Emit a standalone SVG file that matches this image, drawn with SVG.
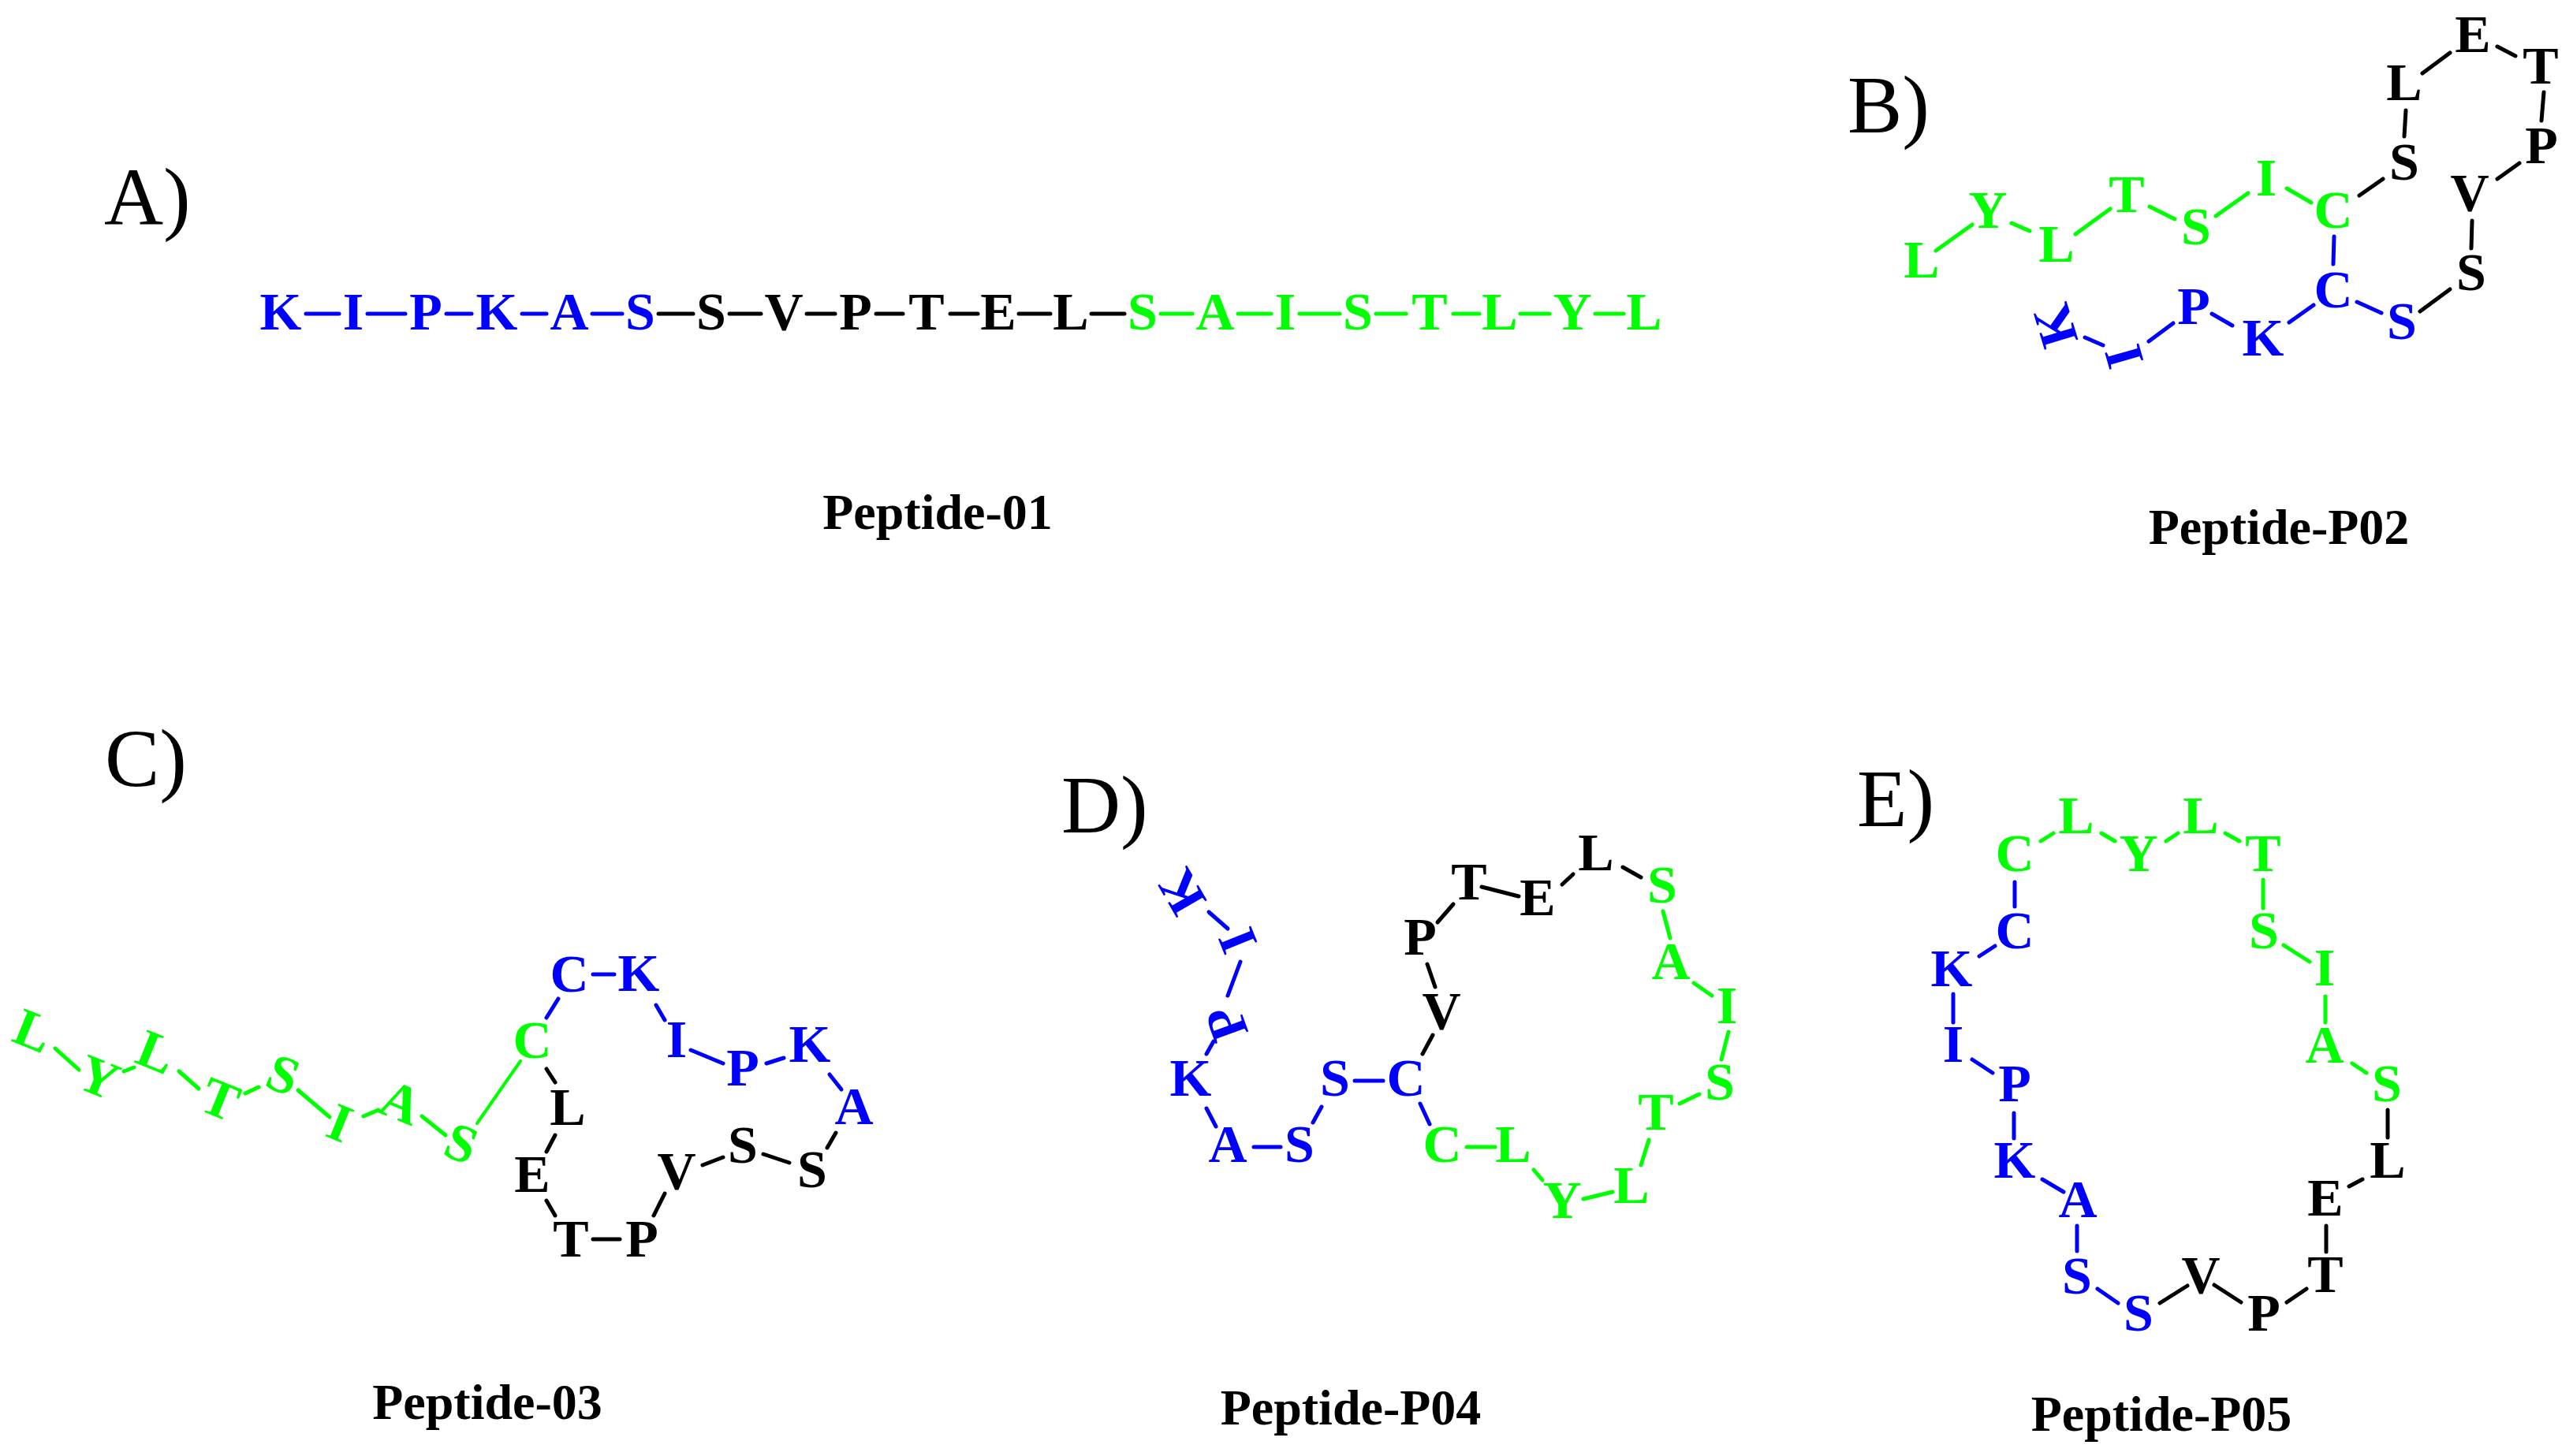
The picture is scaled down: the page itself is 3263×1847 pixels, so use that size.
<svg xmlns="http://www.w3.org/2000/svg" width="3263" height="1847" viewBox="0 0 3263 1847">
<style>
text{font-family:"Liberation Serif","Times New Roman",serif;}
.r text,.r{font-size:68px;font-weight:bold;text-anchor:middle;}
.lab{font-size:104px;font-weight:normal;}
.cap{font-size:64px;font-weight:bold;text-anchor:middle;}
.b{fill:#0000ff;} .g{fill:#00ff00;} .k{fill:#000000;}
#connectors line{stroke-width:5;stroke-linecap:round;}
.lb{stroke:#0000ff;} .lg{stroke:#00ff00;} .lk{stroke:#000000;}
</style>
<rect width="3263" height="1847" fill="#ffffff"/>

<g id="labels">
<text class="lab" x="132" y="285">A)</text>
<text class="lab" x="2343" y="168">B)</text>
<text class="lab" x="133" y="997">C)</text>
<text class="lab" x="1346" y="1056">D)</text>
<text class="lab" x="2355" y="1048">E)</text>
</g>
<g id="captions">
<text class="cap" x="1189" y="671">Peptide-01</text>
<text class="cap" x="2890" y="690">Peptide-P02</text>
<text class="cap" x="618" y="1800">Peptide-03</text>
<text class="cap" x="1713" y="1807">Peptide-P04</text>
<text class="cap" x="2741" y="1815">Peptide-P05</text>
</g>

<g id="connectors">
<!-- A -->
<line class="lb" x1="388" y1="398" x2="430" y2="398"/>
<line class="lb" x1="466" y1="398" x2="514" y2="398"/>
<line class="lb" x1="566" y1="398" x2="598" y2="398"/>
<line class="lb" x1="662" y1="398" x2="693" y2="398"/>
<line class="lb" x1="751" y1="398" x2="789" y2="398"/>
<line class="lk" x1="835" y1="398" x2="879" y2="398"/>
<line class="lk" x1="925" y1="398" x2="965" y2="398"/>
<line class="lk" x1="1023" y1="398" x2="1059" y2="398"/>
<line class="lk" x1="1111" y1="398" x2="1145" y2="398"/>
<line class="lk" x1="1205" y1="398" x2="1240" y2="398"/>
<line class="lk" x1="1292" y1="398" x2="1332" y2="398"/>
<line class="lk" x1="1384" y1="398" x2="1426" y2="398"/>
<line class="lg" x1="1472" y1="398" x2="1512" y2="398"/>
<line class="lg" x1="1570" y1="398" x2="1612" y2="398"/>
<line class="lg" x1="1648" y1="398" x2="1699" y2="398"/>
<line class="lg" x1="1745" y1="398" x2="1783" y2="398"/>
<line class="lg" x1="1843" y1="398" x2="1876" y2="398"/>
<line class="lg" x1="1928" y1="398" x2="1965" y2="398"/>
<line class="lg" x1="2023" y1="398" x2="2059" y2="398"/>
<!-- B -->
<line class="lg" x1="2455" y1="318" x2="2501" y2="285"/>
<line class="lg" x1="2551" y1="283" x2="2574" y2="293"/>
<line class="lg" x1="2632" y1="297" x2="2676" y2="265"/>
<line class="lg" x1="2726" y1="262" x2="2758" y2="278"/>
<line class="lg" x1="2810" y1="274" x2="2851" y2="245"/>
<line class="lg" x1="2900" y1="239" x2="2931" y2="257"/>
<line class="lk" x1="2992" y1="248" x2="3022" y2="227"/>
<line class="lk" x1="3049" y1="173" x2="3051" y2="140"/>
<line class="lk" x1="3072" y1="93" x2="3107" y2="67"/>
<line class="lk" x1="3167" y1="59" x2="3190" y2="71"/>
<line class="lk" x1="3226" y1="117" x2="3223" y2="153"/>
<line class="lk" x1="3195" y1="207" x2="3167" y2="227"/>
<line class="lk" x1="3135" y1="280" x2="3134" y2="315"/>
<line class="lk" x1="3069" y1="395" x2="3107" y2="367"/>
<line class="lb" x1="2989" y1="383" x2="3020" y2="397"/>
<line class="lb" x1="2960" y1="300" x2="2959" y2="335"/>
<line class="lb" x1="2903" y1="409" x2="2934" y2="387"/>
<line class="lb" x1="2805" y1="398" x2="2831" y2="413"/>
<line class="lb" x1="2725" y1="433" x2="2756" y2="410"/>
<line class="lb" x1="2644" y1="428" x2="2667" y2="438"/>
<!-- C -->
<line class="lg" x1="70" y1="1330" x2="100" y2="1357"/>
<line class="lg" x1="157" y1="1359" x2="170" y2="1354"/>
<line class="lg" x1="227" y1="1359" x2="252" y2="1381"/>
<line class="lg" x1="311" y1="1387" x2="328" y2="1379"/>
<line class="lg" x1="378" y1="1383" x2="418" y2="1417"/>
<line class="lg" x1="461" y1="1416" x2="480" y2="1408"/>
<line class="lg" x1="535" y1="1416" x2="565" y2="1440"/>
<line class="lg" x1="605" y1="1425" x2="660" y2="1346" style="stroke-width:4"/>
<line class="lb" x1="693" y1="1291" x2="708" y2="1267"/>
<line class="lb" x1="752" y1="1236" x2="779" y2="1236"/>
<line class="lb" x1="832" y1="1275" x2="843" y2="1294"/>
<line class="lb" x1="876" y1="1332" x2="917" y2="1349"/>
<line class="lb" x1="972" y1="1349" x2="994" y2="1342"/>
<line class="lb" x1="1052" y1="1363" x2="1067" y2="1382"/>
<line class="lk" x1="1060" y1="1437" x2="1049" y2="1456"/>
<line class="lk" x1="968" y1="1464" x2="1001" y2="1475"/>
<line class="lk" x1="891" y1="1478" x2="917" y2="1468"/>
<line class="lk" x1="843" y1="1514" x2="829" y2="1542"/>
<line class="lk" x1="752" y1="1572" x2="786" y2="1572"/>
<line class="lk" x1="704" y1="1542" x2="693" y2="1523"/>
<line class="lk" x1="693" y1="1461" x2="704" y2="1440"/>
<line class="lk" x1="693" y1="1356" x2="704" y2="1373"/>
<!-- D -->
<line class="lb" x1="1533" y1="1157" x2="1557" y2="1178"/>
<line class="lb" x1="1573" y1="1220" x2="1557" y2="1263"/>
<line class="lb" x1="1539" y1="1321" x2="1530" y2="1337"/>
<line class="lb" x1="1530" y1="1406" x2="1542" y2="1429"/>
<line class="lb" x1="1590" y1="1455" x2="1624" y2="1455"/>
<line class="lb" x1="1665" y1="1424" x2="1676" y2="1404"/>
<line class="lb" x1="1718" y1="1371" x2="1754" y2="1371"/>
<line class="lk" x1="1804" y1="1337" x2="1817" y2="1313"/>
<line class="lk" x1="1820" y1="1252" x2="1810" y2="1223"/>
<line class="lk" x1="1823" y1="1170" x2="1843" y2="1147"/>
<line class="lk" x1="1879" y1="1125" x2="1926" y2="1137"/>
<line class="lk" x1="1981" y1="1122" x2="1995" y2="1109"/>
<line class="lk" x1="2058" y1="1100" x2="2081" y2="1113"/>
<line class="lg" x1="2109" y1="1156" x2="2118" y2="1190"/>
<line class="lg" x1="2148" y1="1247" x2="2171" y2="1263"/>
<line class="lg" x1="2192" y1="1309" x2="2183" y2="1344"/>
<line class="lg" x1="2155" y1="1388" x2="2130" y2="1400"/>
<line class="lg" x1="2091" y1="1446" x2="2081" y2="1478"/>
<line class="lg" x1="2045" y1="1512" x2="2008" y2="1521"/>
<line class="lg" x1="1956" y1="1497" x2="1945" y2="1484"/>
<line class="lg" x1="1860" y1="1455" x2="1896" y2="1455"/>
<line class="lb" x1="1801" y1="1400" x2="1813" y2="1426"/>
<!-- E -->
<line class="lg" x1="2588" y1="1067" x2="2604" y2="1057"/>
<line class="lg" x1="2665" y1="1057" x2="2682" y2="1067"/>
<line class="lg" x1="2747" y1="1067" x2="2762" y2="1057"/>
<line class="lg" x1="2822" y1="1057" x2="2840" y2="1067"/>
<line class="lg" x1="2870" y1="1116" x2="2870" y2="1152"/>
<line class="lg" x1="2896" y1="1199" x2="2929" y2="1220"/>
<line class="lg" x1="2949" y1="1264" x2="2949" y2="1297"/>
<line class="lg" x1="2983" y1="1349" x2="3001" y2="1361"/>
<line class="lk" x1="3028" y1="1408" x2="3028" y2="1443"/>
<line class="lk" x1="2996" y1="1496" x2="2979" y2="1505"/>
<line class="lk" x1="2950" y1="1555" x2="2950" y2="1588"/>
<line class="lk" x1="2925" y1="1635" x2="2900" y2="1652"/>
<line class="lk" x1="2842" y1="1652" x2="2808" y2="1630"/>
<line class="lk" x1="2774" y1="1631" x2="2739" y2="1653"/>
<line class="lb" x1="2686" y1="1653" x2="2660" y2="1635"/>
<line class="lb" x1="2634" y1="1555" x2="2634" y2="1587"/>
<line class="lb" x1="2617" y1="1512" x2="2590" y2="1496"/>
<line class="lb" x1="2554" y1="1412" x2="2554" y2="1444"/>
<line class="lb" x1="2527" y1="1361" x2="2501" y2="1344"/>
<line class="lb" x1="2477" y1="1261" x2="2477" y2="1297"/>
<line class="lb" x1="2510" y1="1213" x2="2530" y2="1200"/>
<line class="lb" x1="2555" y1="1119" x2="2555" y2="1150"/>
</g>

<g id="peptide-01" class="r">
<g id="a01" class="b"><text x="356" y="418">K</text></g>
<g id="a02" class="b"><text x="448" y="418">I</text></g>
<g id="a03" class="b"><text x="540" y="418">P</text></g>
<g id="a04" class="b"><text x="630" y="418">K</text></g>
<g id="a05" class="b"><text x="722" y="418">A</text></g>
<g id="a06" class="b"><text x="812" y="418">S</text></g>
<g id="a07" class="k"><text x="902" y="418">S</text></g>
<g id="a08" class="k"><text x="994" y="418">V</text></g>
<g id="a09" class="k"><text x="1085" y="418">P</text></g>
<g id="a10" class="k"><text x="1175" y="418">T</text></g>
<g id="a11" class="k"><text x="1266" y="418">E</text></g>
<g id="a12" class="k"><text x="1358" y="418">L</text></g>
<g id="a13" class="g"><text x="1449" y="418">S</text></g>
<g id="a14" class="g"><text x="1541" y="418">A</text></g>
<g id="a15" class="g"><text x="1630" y="418">I</text></g>
<g id="a16" class="g"><text x="1722" y="418">S</text></g>
<g id="a17" class="g"><text x="1813" y="418">T</text></g>
<g id="a18" class="g"><text x="1902" y="418">L</text></g>
<g id="a19" class="g"><text x="1994" y="418">Y</text></g>
<g id="a20" class="g"><text x="2085" y="418">L</text></g>
</g>

<g id="peptide-p02" class="r">
<g id="b01" class="g"><text x="2437" y="352">L</text></g>
<g id="b02" class="g"><text x="2521" y="289">Y</text></g>
<g id="b03" class="g"><text x="2608" y="332">L</text></g>
<g id="b04" class="g"><text x="2697" y="269">T</text></g>
<g id="b05" class="g"><text x="2785" y="310">S</text></g>
<g id="b06" class="g"><text x="2874" y="248">I</text></g>
<g id="b07" class="g"><text x="2959" y="289">C</text></g>
<g id="b08" class="k"><text x="3049" y="228">S</text></g>
<g id="b09" class="k"><text x="3049" y="127">L</text></g>
<g id="b10" class="k"><text x="3136" y="66">E</text></g>
<g id="b11" class="k"><text x="3222" y="106">T</text></g>
<g id="b12" class="k"><text x="3223" y="207">P</text></g>
<g id="b13" class="k"><text x="3132" y="267">V</text></g>
<g id="b14" class="k"><text x="3134" y="368">S</text></g>
<g id="b15" class="b"><text x="3046" y="430">S</text></g>
<g id="b16" class="b"><text x="2959" y="390">C</text></g>
<g id="b17" class="b"><text x="2870" y="451">K</text></g>
<g id="b18" class="b"><text x="2782" y="411">P</text></g>
<g id="b19" class="b" transform="translate(2694,452) rotate(-106)"><text x="0" y="22">I</text></g>
<g id="b20" class="b" transform="translate(2607,413) rotate(-107)"><text x="0" y="22">K</text></g>
</g>

<g id="peptide-03" class="r">
<g id="c01" class="g" transform="translate(42,1308) rotate(22)"><text x="0" y="22">L</text></g>
<g id="c02" class="g" transform="translate(125,1367) rotate(22)"><text x="0" y="22">Y</text></g>
<g id="c03" class="g" transform="translate(198,1335) rotate(22)"><text x="0" y="22">L</text></g>
<g id="c04" class="g" transform="translate(279,1395) rotate(22)"><text x="0" y="22">T</text></g>
<g id="c05" class="g" transform="translate(359,1364) rotate(22)"><text x="0" y="22">S</text></g>
<g id="c06" class="g" transform="translate(431,1425) rotate(22)"><text x="0" y="22">I</text></g>
<g id="c07" class="g" transform="translate(508,1399) rotate(22)"><text x="0" y="22">A</text></g>
<g id="c08" class="g" transform="translate(585,1451) rotate(22)"><text x="0" y="22">S</text></g>
<g id="c09" class="g"><text x="675" y="1342">C</text></g>
<g id="c10" class="b"><text x="722" y="1258">C</text></g>
<g id="c11" class="b"><text x="810" y="1257">K</text></g>
<g id="c12" class="b"><text x="858" y="1341">I</text></g>
<g id="c13" class="b"><text x="942" y="1377">P</text></g>
<g id="c14" class="b"><text x="1027" y="1347">K</text></g>
<g id="c15" class="b"><text x="1083" y="1426">A</text></g>
<g id="c16" class="k"><text x="1030" y="1506">S</text></g>
<g id="c17" class="k"><text x="942" y="1475">S</text></g>
<g id="c18" class="k"><text x="858" y="1508">V</text></g>
<g id="c19" class="k"><text x="814" y="1594">P</text></g>
<g id="c20" class="k"><text x="724" y="1594">T</text></g>
<g id="c21" class="k"><text x="675" y="1512">E</text></g>
<g id="c22" class="k"><text x="720" y="1427">L</text></g>
</g>

<g id="peptide-p04" class="r">
<g id="d01" class="b" transform="translate(1499,1131) rotate(-120)"><text x="0" y="22">K</text></g>
<g id="d02" class="b" transform="translate(1570,1193) rotate(-112)"><text x="0" y="22">I</text></g>
<g id="d03" class="b" transform="translate(1556,1298) rotate(-110)"><text x="0" y="22">P</text></g>
<g id="d04" class="b"><text x="1510" y="1390">K</text></g>
<g id="d05" class="b"><text x="1557" y="1474">A</text></g>
<g id="d06" class="b"><text x="1648" y="1474">S</text></g>
<g id="d07" class="b"><text x="1693" y="1390">S</text></g>
<g id="d08" class="b"><text x="1783" y="1390">C</text></g>
<g id="d09" class="k"><text x="1828" y="1305">V</text></g>
<g id="d10" class="k"><text x="1801" y="1211">P</text></g>
<g id="d11" class="k"><text x="1863" y="1141">T</text></g>
<g id="d12" class="k"><text x="1950" y="1161">E</text></g>
<g id="d13" class="k"><text x="2024" y="1104">L</text></g>
<g id="d14" class="g"><text x="2108" y="1145">S</text></g>
<g id="d15" class="g"><text x="2119" y="1242">A</text></g>
<g id="d16" class="g"><text x="2190" y="1298">I</text></g>
<g id="d17" class="g"><text x="2181" y="1395">S</text></g>
<g id="d18" class="g"><text x="2100" y="1433">T</text></g>
<g id="d19" class="g"><text x="2069" y="1526">L</text></g>
<g id="d20" class="g"><text x="1981" y="1545">Y</text></g>
<g id="d21" class="g"><text x="1919" y="1474">L</text></g>
<g id="d22" class="g"><text x="1829" y="1474">C</text></g>
</g>

<g id="peptide-p05" class="r">
<g id="e01" class="g"><text x="2555" y="1105">C</text></g>
<g id="e02" class="g"><text x="2633" y="1057">L</text></g>
<g id="e03" class="g"><text x="2712" y="1105">Y</text></g>
<g id="e04" class="g"><text x="2791" y="1057">L</text></g>
<g id="e05" class="g"><text x="2870" y="1105">T</text></g>
<g id="e06" class="g"><text x="2871" y="1203">S</text></g>
<g id="e07" class="g"><text x="2948" y="1250">I</text></g>
<g id="e08" class="g"><text x="2948" y="1348">A</text></g>
<g id="e09" class="g"><text x="3027" y="1397">S</text></g>
<g id="e10" class="k"><text x="3028" y="1494">L</text></g>
<g id="e11" class="k"><text x="2949" y="1542">E</text></g>
<g id="e12" class="k"><text x="2949" y="1639">T</text></g>
<g id="e13" class="k"><text x="2871" y="1688">P</text></g>
<g id="e14" class="k"><text x="2791" y="1640">V</text></g>
<g id="e15" class="b"><text x="2712" y="1688">S</text></g>
<g id="e16" class="b"><text x="2634" y="1641">S</text></g>
<g id="e17" class="b"><text x="2635" y="1544">A</text></g>
<g id="e18" class="b"><text x="2555" y="1494">K</text></g>
<g id="e19" class="b"><text x="2555" y="1397">P</text></g>
<g id="e20" class="b"><text x="2477" y="1347">I</text></g>
<g id="e21" class="b"><text x="2475" y="1251">K</text></g>
<g id="e22" class="b"><text x="2555" y="1203">C</text></g>
</g>
</svg>
